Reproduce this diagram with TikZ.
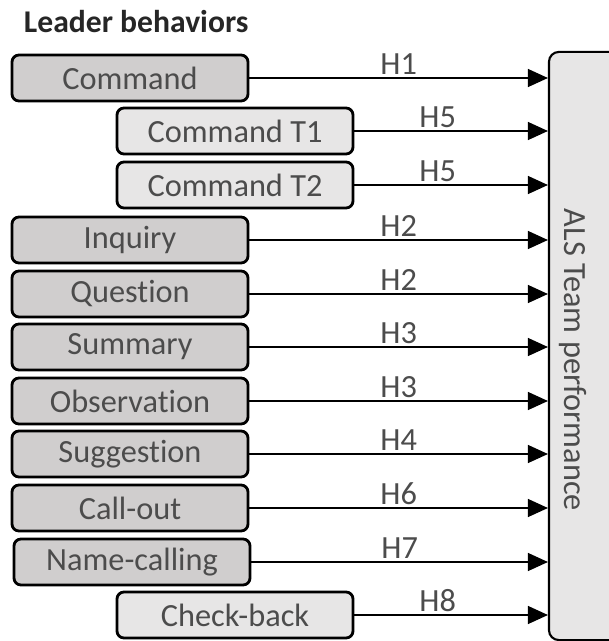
\documentclass[tikz,border=0pt]{standalone}
\usepackage{fontspec}
\setmainfont{Carlito}[RawFeature={-liga,-clig,-dlig}]
\usetikzlibrary{arrows.meta}

\definecolor{boxdark}{RGB}{208,206,206}
\definecolor{boxlight}{RGB}{231,230,230}

\begin{document}
\begin{tikzpicture}[
    x=0.025cm, y=-0.025cm,
    every node/.style={font=\fontsize{23}{26}\selectfont, text=black!70},
    behavior/.style={draw=black, line width=2pt, rounded corners=5pt, inner sep=0pt,
        minimum width=5.9cm, minimum height=1.15cm},
    main/.style={behavior, fill=boxdark},
    sub/.style={behavior, fill=boxlight},
    outcome/.style={draw=black, line width=1.5pt, rounded corners=7pt, fill=boxlight,
        minimum width=1.8cm, minimum height=14.7cm, inner sep=0pt},
    link/.style={draw, line width=0.9pt, -{Triangle[length=0.5cm, width=0.45cm]}},
    hyp/.style={above, inner sep=2pt}
]
\useasboundingbox (0,0) rectangle (608,641);

\node[font=\fontsize{22.5}{26}\selectfont\bfseries, text=black!85, anchor=west] (title) at (19,22) {Leader behaviors};

% outcome box, runs off the right edge
\node[outcome] (als) at (585,346) {};
\node[rotate=-90] (alstext) at (573,360) {ALS Team performance};

% behaviours
\node[main] (cmd)  at (130,78)  {Command};
\node[sub]  (cmdt1) at (235,131) {Command T1};
\node[sub]  (cmdt2) at (235,185) {Command T2};
\node[main] (inq)  at (130,240) {Inquiry};
\node[main] (que)  at (130,294) {Question};
\node[main] (sum)  at (130,347) {Summary};
\node[main] (obs)  at (130,401) {Observation};
\node[main] (sug)  at (130,454) {Suggestion};
\node[main] (call) at (130,508) {Call-out};
\node[main] (name) at (132,562) {Name-calling};
\node[sub]  (chk)  at (235,615) {Check-back};

% hypotheses
\foreach \src/\h/\p in {cmd/H1/0.5, cmdt1/H5/0.43, cmdt2/H5/0.43, inq/H2/0.5,
        que/H2/0.5, sum/H3/0.5, obs/H3/0.5, sug/H4/0.5, call/H6/0.5,
        name/H7/0.5, chk/H8/0.43}
    \draw[link] (\src.east) -- node[hyp, pos=\p] {\h} (\src.east -| als.west);
\end{tikzpicture}
\end{document}
